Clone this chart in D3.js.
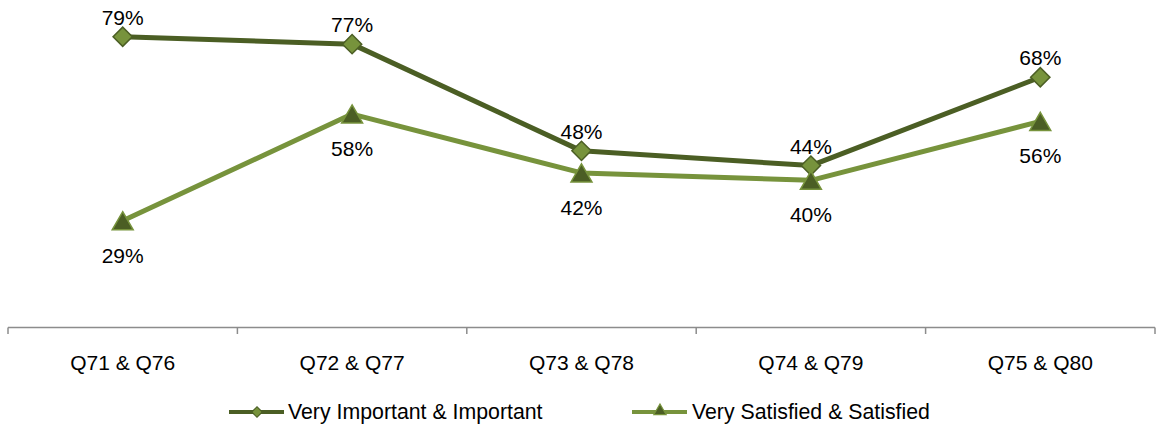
<!DOCTYPE html>
<html>
<head>
<meta charset="utf-8">
<script src="https://cdn.jsdelivr.net/npm/d3@7/dist/d3.min.js"></script>
<style>
  html, body { margin: 0; padding: 0; background: #fff; }
  svg { display: block; font-family: "Liberation Sans", Arial, sans-serif; }
</style>
</head>
<body>
<svg id="chart" width="1157" height="427"></svg>
<script>
const categories = ["Q71 & Q76", "Q72 & Q77", "Q73 & Q78", "Q74 & Q79", "Q75 & Q80"];
const importantValues = [79, 77, 48, 44, 68];
const satisfiedValues = [29, 58, 42, 40, 56];
const seriesNames = ["Very Important & Important", "Very Satisfied & Satisfied"];

const darkGreen = "#4b5e24";
const lightGreen = "#77933c";

const svg = d3.select("#chart");

const x = d3.scaleBand().domain(categories).range([8, 1155]);
const y = d3.scaleLinear().domain([0, 100]).range([327.5, -40.5]);
const cx = d => x(d) + x.bandwidth() / 2;

// Category axis with boundary ticks
const axisG = svg.append("g");
axisG.append("line")
  .attr("x1", x.range()[0]).attr("x2", x.range()[1])
  .attr("y1", 327.5).attr("y2", 327.5)
  .attr("stroke", "#8c8c8c").attr("stroke-width", 1.5);
const boundaries = categories.map(c => x(c)).concat([x.range()[1]]);
axisG.selectAll(".tick").data(boundaries).enter().append("line")
  .attr("x1", d => d).attr("x2", d => d)
  .attr("y1", 327.5).attr("y2", 334)
  .attr("stroke", "#8c8c8c").attr("stroke-width", 1.5);
axisG.selectAll(".cat").data(categories).enter().append("text")
  .attr("x", d => cx(d)).attr("y", 370)
  .attr("text-anchor", "middle")
  .attr("font-size", 21).attr("fill", "#000")
  .text(d => d);

const line = d3.line().x((d, i) => cx(categories[i])).y(d => y(d));

// Rotated square gives the wide diamond marker
const diamond = d3.symbol().type(d3.symbolSquare).size(185);
const triangle = d3.symbol().type(d3.symbolTriangle).size(190);

// Series 1: importance
svg.append("path").datum(importantValues)
  .attr("d", line).attr("fill", "none")
  .attr("stroke", darkGreen).attr("stroke-width", 5).attr("stroke-linejoin", "round");
// Series 2: satisfaction
svg.append("path").datum(satisfiedValues)
  .attr("d", line).attr("fill", "none")
  .attr("stroke", lightGreen).attr("stroke-width", 5).attr("stroke-linejoin", "round");

svg.selectAll(".dia").data(importantValues).enter().append("path")
  .attr("d", diamond)
  .attr("transform", (d, i) => `translate(${cx(categories[i])},${y(d)}) rotate(45)`)
  .attr("fill", lightGreen).attr("stroke", darkGreen).attr("stroke-width", 1.5);

svg.selectAll(".tri").data(satisfiedValues).enter().append("path")
  .attr("d", triangle)
  .attr("transform", (d, i) => `translate(${cx(categories[i])},${y(d) + 3})`)
  .attr("fill", darkGreen).attr("stroke", lightGreen).attr("stroke-width", 1.5);

// Value labels
svg.selectAll(".lblA").data(importantValues).enter().append("text")
  .attr("x", (d, i) => cx(categories[i])).attr("y", d => y(d) - 12)
  .attr("text-anchor", "middle").attr("font-size", 21).attr("fill", "#000")
  .text(d => d + "%");
svg.selectAll(".lblB").data(satisfiedValues).enter().append("text")
  .attr("x", (d, i) => cx(categories[i])).attr("y", d => y(d) + 42)
  .attr("text-anchor", "middle").attr("font-size", 21).attr("fill", "#000")
  .text(d => d + "%");

// Legend
const legend = [
  { name: seriesNames[0], x0: 229, line: darkGreen, type: d3.symbolSquare, size: 55, rot: 45, dy: 0, fill: lightGreen, stroke: darkGreen },
  { name: seriesNames[1], x0: 632, line: lightGreen, type: d3.symbolTriangle, size: 65, rot: 0, dy: -1, fill: darkGreen, stroke: lightGreen }
];
const lg = svg.selectAll(".leg").data(legend).enter().append("g")
  .attr("transform", d => `translate(${d.x0},412)`);
lg.append("line").attr("x1", 0).attr("x2", 55).attr("y1", 0).attr("y2", 0)
  .attr("stroke", d => d.line).attr("stroke-width", 4);
lg.append("path")
  .attr("d", d => d3.symbol().type(d.type).size(d.size)())
  .attr("transform", d => `translate(28,${d.dy}) rotate(${d.rot})`)
  .attr("fill", d => d.fill).attr("stroke", d => d.stroke).attr("stroke-width", 1.2);
lg.append("text").attr("x", d => d.x0 === 229 ? 59 : 60).attr("y", 7)
  .attr("font-size", 21.3).attr("fill", "#000")
  .text(d => d.name);
</script>
</body>
</html>
